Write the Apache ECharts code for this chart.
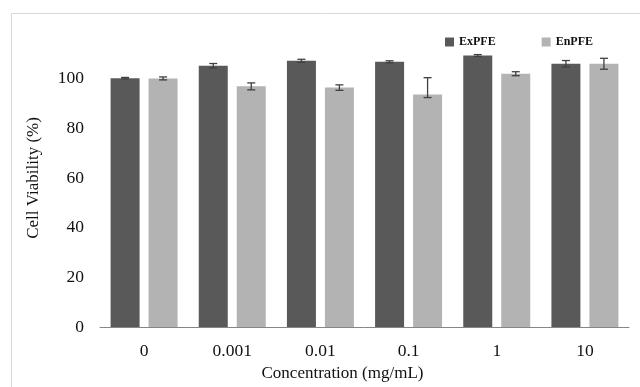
<!DOCTYPE html>
<html>
<head>
<meta charset="utf-8">
<script src="https://cdn.jsdelivr.net/npm/echarts@6/dist/echarts.min.js"></script>
<style>
  html, body { margin: 0; padding: 0; background: #fff; }
  #chart { width: 640px; height: 387px; }
</style>
</head>
<body>
<div id="chart"></div>
<script>
const categories = ['0', '0.001', '0.01', '0.1', '1', '10']
const exValues = [100.2, 105.2, 107.2, 106.8, 109.3, 106.0]
const enValues = [100.1, 96.9, 96.4, 93.6, 102.0, 106.0]
const exErr = [0.3, 0.9, 0.6, 0.4, 0.4, 1.3]
const enErrUp = [0.6, 1.4, 1.1, 6.8, 0.8, 2.2]
const enErrDown = [0.6, 1.4, 1.1, 1.2, 0.8, 2.2]

const serif = '"Liberation Serif", "DejaVu Serif", serif'
const chart = echarts.init(document.getElementById('chart'))

// error bar drawn around a grouped bar; offset = half of (bar width + gap)
function errorSeries(values, up, down, offset) {
  return {
    type: 'custom',
    silent: true,
    z: 10,
    data: values.map((v, i) => [i, v - down[i], v + up[i]]),
    renderItem: (params, api) => {
      const lo = api.coord([api.value(0), api.value(1)])
      const hi = api.coord([api.value(0), api.value(2)])
      const x = lo[0] + offset
      const cap = 4
      const style = { stroke: '#404040', lineWidth: 1.3 }
      return {
        type: 'group',
        children: [
          { type: 'line', shape: { x1: x, y1: hi[1], x2: x, y2: lo[1] }, style },
          { type: 'line', shape: { x1: x - cap, y1: hi[1], x2: x + cap, y2: hi[1] }, style },
          { type: 'line', shape: { x1: x - cap, y1: lo[1], x2: x + cap, y2: lo[1] }, style }
        ]
      }
    }
  }
}

chart.setOption({
  animation: false,
  backgroundColor: '#fff',
  graphic: [{
    type: 'rect',
    shape: { x: 11.5, y: 13.5, width: 700, height: 500 },
    style: { fill: 'none', stroke: '#d9d9d9', lineWidth: 1 },
    silent: true
  }],
  legend: {
    left: 440,
    top: 31,
    icon: 'rect',
    itemWidth: 9,
    itemHeight: 9,
    itemGap: 46,
    textStyle: { fontFamily: serif, fontWeight: 'bold', fontSize: 12, color: '#111' },
    data: ['ExPFE', 'EnPFE']
  },
  grid: { left: 100, right: 11, top: 29, bottom: 58 },
  xAxis: {
    type: 'category',
    data: categories,
    name: 'Concentration (mg/mL)',
    nameLocation: 'middle',
    nameGap: 38,
    nameTextStyle: { fontFamily: serif, fontSize: 17, color: '#111', padding: [0, 44, 0, 0] },
    axisLine: { lineStyle: { color: '#868686', width: 1 } },
    axisTick: { show: false },
    axisLabel: { fontFamily: serif, fontSize: 17.5, color: '#111', margin: 15 }
  },
  yAxis: {
    type: 'value',
    min: 0,
    max: 120,
    interval: 20,
    name: 'Cell Viability (%)',
    nameLocation: 'middle',
    nameGap: 58,
    nameTextStyle: { fontFamily: serif, fontSize: 17, color: '#111' },
    axisLine: { show: false },
    axisTick: { show: false },
    splitLine: { show: false },
    axisLabel: { fontFamily: serif, fontSize: 17.5, color: '#111', margin: 16, showMaxLabel: false }
  },
  series: [
    {
      name: 'ExPFE',
      type: 'bar',
      data: exValues,
      barWidth: 29,
      barGap: '31%',
      itemStyle: { color: '#595959' }
    },
    {
      name: 'EnPFE',
      type: 'bar',
      data: enValues,
      barWidth: 29,
      itemStyle: { color: '#b3b3b3' }
    },
    errorSeries(exValues, exErr, exErr, -19),
    errorSeries(enValues, enErrUp, enErrDown, 19)
  ]
})
</script>
</body>
</html>
